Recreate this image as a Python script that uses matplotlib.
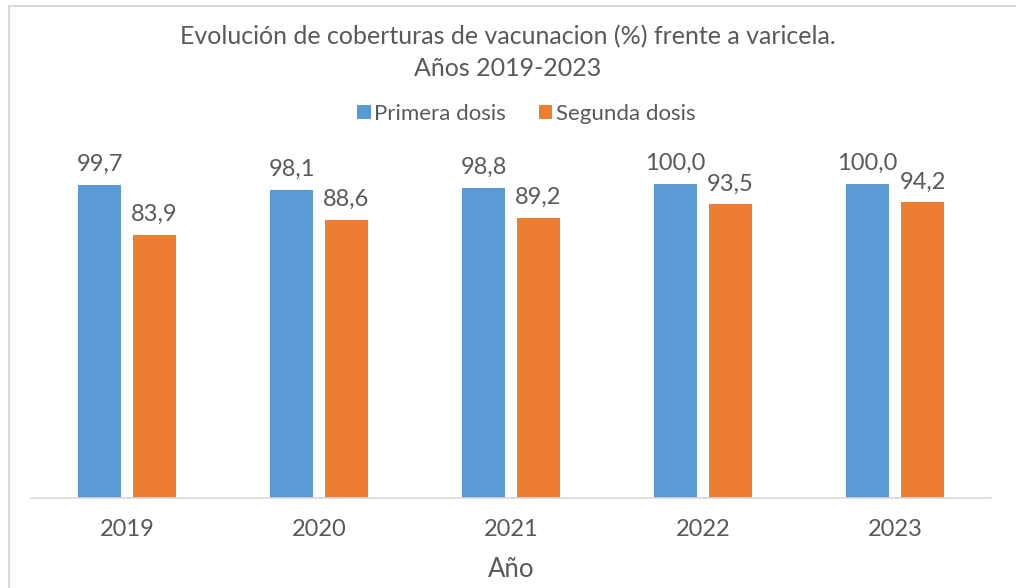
import numpy as np
import matplotlib.pyplot as plt
from matplotlib.lines import Line2D

# Datos
anios = ['2019', '2020', '2021', '2022', '2023']
primera_dosis = [99.7, 98.1, 98.8, 100.0, 100.0]
segunda_dosis = [83.9, 88.6, 89.2, 93.5, 94.2]

azul = '#5b9bd5'
naranja = '#ed7d31'
gris_texto = '#595959'

plt.rcParams['font.family'] = ['Lato', 'DejaVu Sans']

fig = plt.figure(figsize=(10.16, 5.88), dpi=100)
ax = fig.add_axes([0.0305, 0.153, 0.945, 0.641])

x = np.arange(len(anios))
ancho = 0.224
desp = 0.143

b1 = ax.bar(x - desp, primera_dosis, ancho, color=azul, label='Primera dosis')
b2 = ax.bar(x + desp, segunda_dosis, ancho, color=naranja, label='Segunda dosis')

for barras in (b1, b2):
    for b in barras:
        v = b.get_height()
        ax.annotate(f'{v:.1f}'.replace('.', ','),
                    (b.get_x() + b.get_width() / 2, v),
                    xytext=(0, 7), textcoords='offset points',
                    ha='center', va='bottom', fontsize=17, color=gris_texto)

ax.set_xlim(-0.5, len(anios) - 0.5)
ax.set_ylim(0, 120)
ax.set_yticks([])
ax.set_xticks(x)
ax.set_xticklabels(anios, fontsize=17, color=gris_texto)
ax.tick_params(axis='x', length=0, pad=15)
for s in ['top', 'right', 'left']:
    ax.spines[s].set_visible(False)
ax.spines['bottom'].set_color('#d9d9d9')
ax.spines['bottom'].set_linewidth(1.2)

ax.set_xlabel('Año', fontsize=18.5, color=gris_texto, labelpad=12)

fig.text(0.5, 0.938, 'Evolución de coberturas de vacunacion (%) frente a varicela.',
         ha='center', va='center', fontsize=18, color=gris_texto)
fig.text(0.5, 0.884, 'Años 2019-2023', ha='center', va='center',
         fontsize=18, color=gris_texto)

fig.legend(handles=[b1, b2], loc='center', bbox_to_anchor=(0.518, 0.806),
           ncol=2, frameon=False, fontsize=16, labelcolor=gris_texto,
           handlelength=0.6, handleheight=0.6, handletextpad=0.15,
           columnspacing=1.5)

# borde del gráfico
fig.add_artist(Line2D([0.009, 0.009], [0, 0.99], color='#d9d9d9', lw=1.5))
fig.add_artist(Line2D([0.009, 1.0], [0.99, 0.99], color='#d9d9d9', lw=1.5))

fig.savefig('out.png', dpi=100)
